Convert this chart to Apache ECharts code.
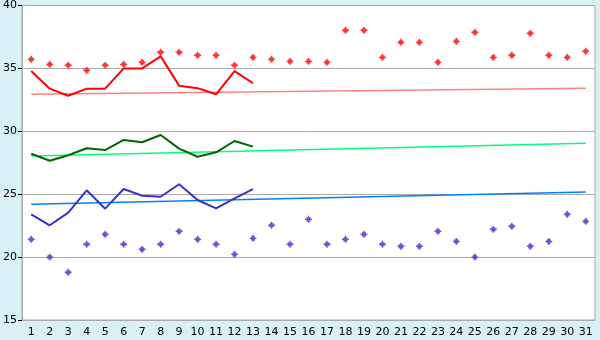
<!DOCTYPE html>
<html><head><meta charset="utf-8">
<script src="https://cdn.jsdelivr.net/npm/echarts@6/dist/echarts.min.js"></script>
<style>html,body{margin:0;padding:0;background:#d9f0f7;}#c{width:600px;height:340px;}</style>
</head><body><div id="c"></div>
<script>
const days = ['1','2','3','4','5','6','7','8','9','10','11','12','13','14','15','16','17','18','19','20','21','22','23','24','25','26','27','28','29','30','31'];
const yTicks = [15, 20, 25, 30, 35, 40];
const redDots = [35.72,35.32,35.25,34.85,35.25,35.32,35.48,36.28,36.28,36.04,36.04,35.25,35.88,35.72,35.56,35.56,35.48,38.03,38.03,35.88,37.07,37.07,35.48,37.15,37.87,35.88,36.04,37.79,36.04,35.88,36.36];
const redLine = [34.79,33.39,32.83,33.39,33.39,35.0,35.0,35.96,33.63,33.43,32.94,34.79,33.82];
const greenLine = [28.22,27.66,28.1,28.65,28.51,29.31,29.13,29.71,28.62,27.98,28.33,29.23,28.78];
const blueLine = [23.40,22.53,23.53,25.31,23.85,25.41,24.88,24.80,25.79,24.54,23.88,24.67,25.41];
const blueDots = [21.41,20.0,18.79,21.02,21.81,21.02,20.62,21.02,22.05,21.41,21.02,20.22,21.49,22.53,21.02,23.0,21.02,21.41,21.81,21.02,20.86,20.86,22.05,21.25,20.0,22.21,22.45,20.86,21.25,23.40,22.84];
const redTrend = [32.94, 33.42];
const greenTrend = [28.04, 29.05];
const blueTrend = [24.20, 25.17];

const mark = 'path://M2,0H3V1H4V2H5V3H4V4H3V5H2V4H1V3H0V2H1V1H2Z';
function trend(t){ return [[days[0], t[0]], [days[days.length-1], t[1]]]; }
function dotSeries(d, color){
  return {type:'scatter', data:d, symbol:mark, symbolSize:7, itemStyle:{color:color}, silent:true, z:5};
}
function lineSeries(d, color, w, z){
  return {type:'line', data:d, symbol:'none', lineStyle:{color:color, width:w}, silent:true, z:z};
}
const chart = echarts.init(document.getElementById('c'));
chart.setOption({
  animation:false,
  backgroundColor:'#d9f0f7',
  grid:{left:20, right:5, top:5.5, bottom:20, show:true, backgroundColor:'#ffffff', borderColor:'#aaaaaa', borderWidth:1},
  xAxis:{type:'category', data:days, boundaryGap:true,
    axisLine:{lineStyle:{color:'#aaaaaa'}},
    axisTick:{alignWithLabel:true, length:5, lineStyle:{color:'#000000'}},
    axisLabel:{color:'#000', fontFamily:'DejaVu Sans', fontSize:11, margin:7, interval:0},
    splitLine:{show:false}},
  yAxis:{type:'value', min:yTicks[0], max:yTicks[yTicks.length-1], interval:5,
    axisLine:{show:true, lineStyle:{color:'#aaaaaa'}},
    axisTick:{show:true, length:4, lineStyle:{color:'#000000'}},
    axisLabel:{color:'#000', fontFamily:'DejaVu Sans', fontSize:11, margin:5},
    splitLine:{lineStyle:{color:'#aaaaaa', width:1}}},
  series:[
    lineSeries(trend(redTrend), '#ff8080', 1.5, 2),
    lineSeries(trend(greenTrend), '#00ff80', 1.5, 2),
    lineSeries(trend(blueTrend), '#0080ff', 1.5, 2),
    lineSeries(redLine, '#ff0000', 2, 3),
    lineSeries(greenLine, '#006600', 2, 3),
    lineSeries(blueLine, '#3333cc', 2, 3),
    dotSeries(redDots, '#ff0000'),
    dotSeries(blueDots, '#3333cc')
  ]
});
</script></body></html>
